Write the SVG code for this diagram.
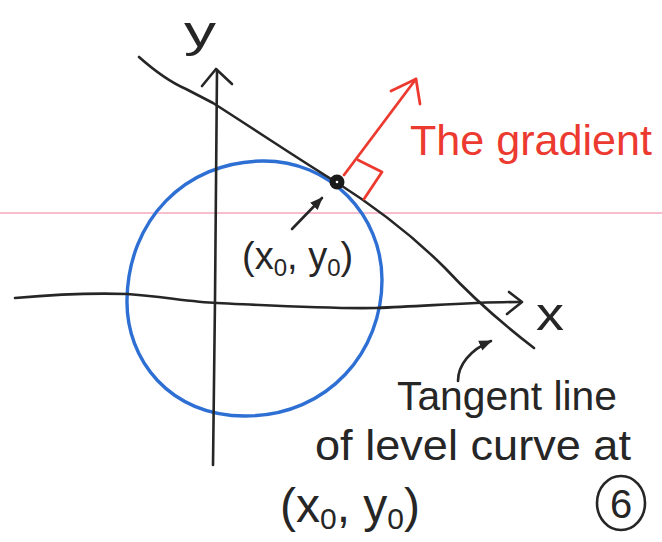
<svg xmlns="http://www.w3.org/2000/svg" width="662" height="542" viewBox="0 0 662 542">
<style>
.ink{fill:none;stroke:#262626;stroke-width:2.6;stroke-linecap:round;stroke-linejoin:round}
.red{fill:none;stroke:#ec3a30;stroke-width:2.8;stroke-linecap:round;stroke-linejoin:round}
.blue{fill:none;stroke:#2e6fd3;stroke-width:3.4}
.t{font-family:"Liberation Sans",Arial,sans-serif;fill:#262626}
.tr{fill:#ec3a30}
</style>
<defs>
<marker id="tri" viewBox="0 0 10 10" refX="9" refY="5" markerWidth="5" markerHeight="5" orient="auto" markerUnits="strokeWidth">
<path d="M0,1 L10,5 L0,9 Z" fill="#262626"/>
</marker>
</defs>
<rect width="662" height="542" fill="#ffffff"/>
<line id="rule" x1="0" y1="213" x2="662" y2="213" stroke="#ef7f9a" stroke-width="1"/>

<g id="level-curve">
<path class="blue" d="M262,161 C330,160 382,215 382,280 C382,350 330,416 245,416 C170,416 126,360 127,300 C128,220 185,162 262,161 Z"/>
</g>

<g id="y-axis">
<path class="ink" d="M213,465 L215,300 L217,70"/>
<path class="ink" d="M202,86 L216,69 L232,84"/>
<text class="t" x="184" y="47" font-size="44" textLength="32" lengthAdjust="spacingAndGlyphs">y</text>
</g>

<g id="x-axis">
<path class="ink" d="M15,298 C60,294 100,293 127,294 C160,296 190,302 217,303 C280,306 330,309 376,308 C430,306 470,302 519,302"/>
<path class="ink" d="M509,292 L522,302 L507,314"/>
<text class="t" x="536" y="330" font-size="46" textLength="28" lengthAdjust="spacingAndGlyphs">x</text>
</g>

<g id="tangent-line">
<path class="ink" d="M139,57 Q165,80 186,89 L213,103 C260,133 300,160 336,182 C380,210 415,238 445,268 C470,295 495,318 534,348"/>
</g>

<g id="point">
<circle cx="337" cy="182" r="7.5" fill="#1a1a1a"/>
<circle cx="337" cy="182" r="1.3" fill="#ffffff"/>
</g>

<g id="gradient">
<path class="red" d="M344,175 L416,79"/>
<path class="red" d="M391,91 L416,79 L420,104"/>
<path class="red" d="M358,160 L382,172 L364,199"/>
<text class="t tr" x="410" y="155" font-size="42" textLength="242" lengthAdjust="spacingAndGlyphs">The gradient</text>
</g>

<g id="point-label">
<text class="t" x="242" y="269" font-size="38">(x<tspan font-size="24" dy="7">0</tspan><tspan dy="-7">, y</tspan><tspan font-size="24" dy="7">0</tspan><tspan dy="-7">)</tspan></text>
</g>

<g id="tangent-label">
<text class="t" x="397" y="410" font-size="40" textLength="220" lengthAdjust="spacingAndGlyphs">Tangent line</text>
<text class="t" x="315" y="460" font-size="43" textLength="316" lengthAdjust="spacingAndGlyphs">of level curve at</text>
<text class="t" x="280" y="522" font-size="48">(x<tspan font-size="30" dy="7">0</tspan><tspan dy="-7">, y</tspan><tspan font-size="30" dy="7">0</tspan><tspan dy="-7">)</tspan></text>
</g>

<g id="page-number">
<ellipse cx="621" cy="503" rx="24" ry="27" class="ink" stroke-width="2.2"/>
<text class="t" x="621" y="518" font-size="40" text-anchor="middle">6</text>
</g>

<g id="connectors">
<path class="ink" d="M292,229 L322,198" stroke-width="2.2" marker-end="url(#tri)"/>
<path class="ink" d="M458,381 C458,365 470,350 491,341" stroke-width="2.2" marker-end="url(#tri)"/>
</g>
</svg>
